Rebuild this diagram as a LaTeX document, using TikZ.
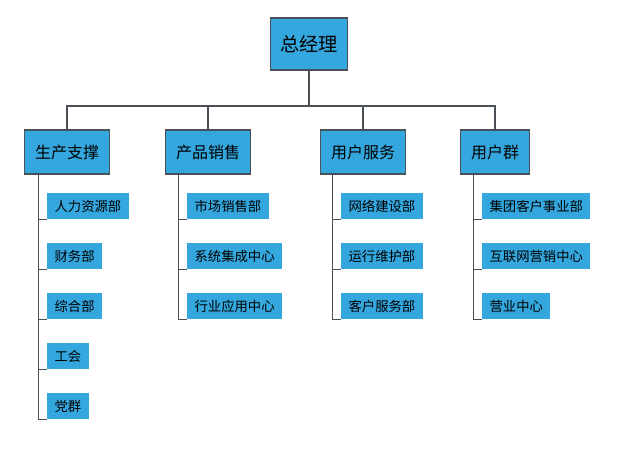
\documentclass[tikz,border=0pt]{standalone}
\usepackage{fontspec}
\setmainfont{Noto Sans CJK SC}
\usepackage{xcolor}
\usetikzlibrary{positioning}
\definecolor{boxblue}{HTML}{33A7DE}
\definecolor{linegray}{HTML}{4A5055}
\tikzset{
  head/.style={draw=linegray, fill=boxblue, thick, minimum height=39pt, minimum width=58pt, font=\Large},
  group/.style={draw=linegray, fill=boxblue, thick, minimum height=33pt, inner xsep=8pt, font=\large},
  item/.style={fill=boxblue, minimum height=19pt, inner xsep=5.5pt, anchor=south west, font=\normalsize},
  wire/.style={linegray, line width=1.3pt},
}

\begin{document}
\begin{tikzpicture}[x=0.75pt,y=-0.75pt]
\useasboundingbox (0,0) rectangle (628,450);
\node [head] (boss) at (309,44) {总经理};
\node [group] (G1) at (67,152) {生产支撑};
\node [group] (G2) at (208,152) {产品销售};
\node [group] (G3) at (363,152) {用户服务};
\node [group] (G4) at (495,152) {用户群};

\coordinate (bus) at (309,106);
\draw[wire] (boss.south) -- (bus);
\foreach \g in {G1,G2,G3,G4}
  \draw[wire] (\g.north) |- (bus);

% children of each group
\foreach \x/\g/\list in {38/G1/{人力资源部,财务部,综合部,工会,党群},
                         178/G2/{市场销售部,系统集成中心,行业应用中心},
                         332/G3/{网络建设部,运行维护部,客户服务部},
                         473/G4/{集团客户事业部,互联网营销中心,营业中心}}{
  \foreach \t [count=\i] in \list {
    \node [item] (\g-\i) at (\x+9,169+50*\i) {\t};
    \draw[linegray, semithick] (\x,174) |- (\g-\i.south west);
  }
}
\end{tikzpicture}
\end{document}
